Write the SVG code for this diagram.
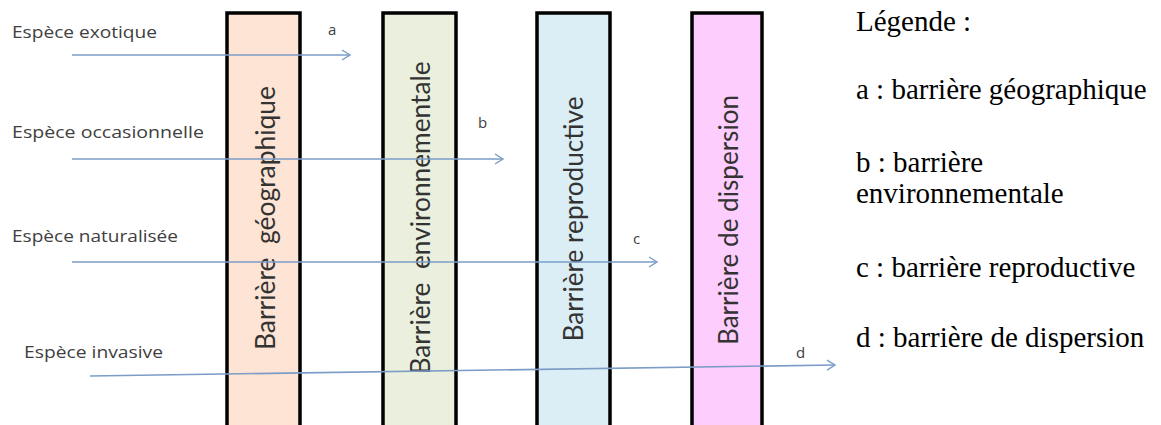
<svg xmlns="http://www.w3.org/2000/svg" width="1161" height="425" viewBox="0 0 1161 425">
<defs>
<marker id="arr" markerWidth="12" markerHeight="12" refX="10" refY="6" orient="auto" markerUnits="userSpaceOnUse">
<path d="M2,1 L10,6 L2,11" fill="none" stroke="#7b9cc7" stroke-width="1.4"/>
</marker>
<style>
.bar{stroke:#000;stroke-width:3.5}
.vt{font-family:Lato,"Open Sans",sans-serif;font-size:26px;fill:#333;text-anchor:middle}
.sp{font-family:"Open Sans",Lato,sans-serif;font-size:17px;fill:#404040}
.lb{font-family:"Open Sans",Lato,sans-serif;font-size:15px;fill:#404040}
.lg{font-family:"Liberation Serif","Times New Roman",serif;font-size:29px;fill:#000}
.cn{stroke:#7b9cc7;stroke-width:1.6;fill:none;marker-end:url(#arr)}
</style>
</defs>
<rect width="1161" height="425" fill="#fff"/>
<g id="bar-geo">
<rect class="bar" x="227" y="13" width="73" height="425" fill="#fde4d4"/>
<text class="vt" transform="translate(275,218) rotate(-90)" xml:space="preserve" textLength="264" lengthAdjust="spacingAndGlyphs">Barrière  géographique</text>
</g>
<g id="bar-env">
<rect class="bar" x="383" y="13" width="73" height="425" fill="#ebf0de"/>
<text class="vt" transform="translate(430,218) rotate(-90)" xml:space="preserve" textLength="313" lengthAdjust="spacingAndGlyphs">Barrière  environnementale</text>
</g>
<g id="bar-rep">
<rect class="bar" x="537" y="13" width="73" height="425" fill="#dceef5"/>
<text class="vt" transform="translate(583,219) rotate(-90)" textLength="245" lengthAdjust="spacingAndGlyphs">Barrière reproductive</text>
</g>
<g id="bar-dis">
<rect class="bar" x="692" y="13" width="70" height="425" fill="#fdcdfd"/>
<text class="vt" transform="translate(738,220) rotate(-90)" textLength="250" lengthAdjust="spacingAndGlyphs">Barrière de dispersion</text>
</g>
<g id="species">
<text class="sp" x="12" y="38" textLength="145" lengthAdjust="spacingAndGlyphs">Espèce exotique</text>
<text class="sp" x="12" y="138" textLength="192" lengthAdjust="spacingAndGlyphs">Espèce occasionnelle</text>
<text class="sp" x="12" y="242" textLength="166" lengthAdjust="spacingAndGlyphs">Espèce naturalisée</text>
<text class="sp" x="24" y="358" textLength="139" lengthAdjust="spacingAndGlyphs">Espèce invasive</text>
</g>
<g id="connectors">
<line class="cn" x1="72" y1="55" x2="350" y2="55"/>
<line class="cn" x1="72" y1="159" x2="503" y2="159"/>
<line class="cn" x1="72" y1="262" x2="657" y2="262"/>
<line class="cn" x1="90" y1="376" x2="835" y2="365"/>
<text class="lb" x="328" y="35">a</text>
<text class="lb" x="478" y="128">b</text>
<text class="lb" x="633" y="244">c</text>
<text class="lb" x="796" y="358">d</text>
</g>
<g id="legend">
<text class="lg" x="856" y="31">Légende :</text>
<text class="lg" x="856" y="99">a : barrière géographique</text>
<text class="lg" x="856" y="172">b : barrière</text>
<text class="lg" x="856" y="203">environnementale</text>
<text class="lg" x="856" y="277">c : barrière reproductive</text>
<text class="lg" x="856" y="347">d : barrière de dispersion</text>
</g>
</svg>
